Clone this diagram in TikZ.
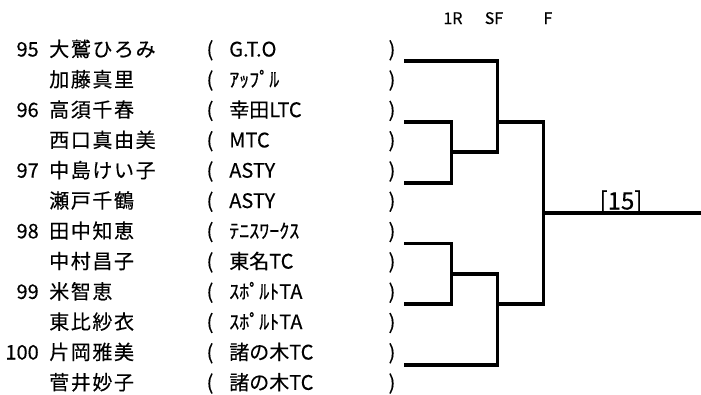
\documentclass[tikz,border=0pt]{standalone}
\usepackage{fontspec}
\setmainfont{Noto Sans CJK JP}[FakeBold=0.3]
\newfontfamily\namefont{Noto Sans CJK JP}[LetterSpace=8,FakeBold=0.3]
\begin{document}
\begin{tikzpicture}[x=0.75pt,y=-0.75pt,
  txt/.style={inner sep=0pt,font=\fontsize{15pt}{18pt}\selectfont},
  numtxt/.style={txt,anchor=base east},
  nametxt/.style={inner sep=0pt,anchor=base west,font=\namefont\fontsize{15pt}{18pt}\selectfont},
  clubtxt/.style={txt,anchor=base west},
  partxt/.style={txt,anchor=base},
  headtxt/.style={inner sep=0pt,anchor=base,font=\fontsize{12pt}{14pt}\selectfont},
  resulttxt/.style={inner sep=0pt,anchor=base,font=\fontsize{18pt}{20pt}\selectfont},
  bracket/.style={line width=2.4pt,line join=miter,line cap=rect}]
\useasboundingbox (0,0) rectangle (701,394);

% header
\node[headtxt] (h1) at (453,24) {1R};
\node[headtxt] (h2) at (494,24) {SF};
\node[headtxt] (h3) at (548,24) {F};

% rows
\foreach \i/\num/\name/\club in {
  1/95/大鷲ひろみ/G.T.O,
  2//加藤真里/ｱｯﾌﾟﾙ,
  3/96/高須千春/幸田LTC,
  4//西口真由美/MTC,
  5/97/中島けい子/ASTY,
  6//瀬戸千鶴/ASTY,
  7/98/田中知恵/ﾃﾆｽﾜｰｸｽ,
  8//中村昌子/東名TC,
  9/99/米智恵/ｽﾎﾟﾙﾄTA,
  10//東比紗衣/ｽﾎﾟﾙﾄTA,
  11/100/片岡雅美/諸の木TC,
  12//菅井妙子/諸の木TC}{
  \pgfmathsetmacro\yb{56.5+30.3*(\i-1)}
  \node[numtxt] (n\i) at (39,\yb) {\num};
  \node[nametxt] (p\i) at (49,\yb) {\name};
  \node[partxt] (lp\i) at (210,\yb) {(};
  \node[clubtxt] (c\i) at (229,\yb) {\club};
  \node[partxt] (rp\i) at (392,\yb) {)};
}

% bracket coordinates
\coordinate (a1) at (406,61);
\coordinate (a1e) at (497.7,61);
\coordinate (b1) at (406,122);
\coordinate (b1e) at (451.7,122);
\coordinate (b2) at (406,183);
\coordinate (b2e) at (451.7,183);
\coordinate (bo) at (451.7,152);
\coordinate (boe) at (497.7,152);
\coordinate (s1) at (497.7,122);
\coordinate (s1e) at (543.3,122);
\coordinate (c1) at (406,243.5);
\coordinate (c1e) at (451.7,243.5);
\coordinate (c2) at (406,304);
\coordinate (c2e) at (451.7,304);
\coordinate (co) at (451.7,274);
\coordinate (coe) at (497.7,274);
\coordinate (d1) at (406,365);
\coordinate (d1e) at (497.7,365);
\coordinate (s2) at (497.7,304);
\coordinate (s2e) at (543.3,304);
\coordinate (fo) at (543.3,213);
\coordinate (foe) at (701,213);

\draw[bracket] (a1) -- (a1e) -- (boe) -- (bo);
\draw[bracket] (b1) -- (b1e) -- (b2e) -- (b2);
\draw[bracket] (s1) -- (s1e) -- (s2e) -- (s2);
\draw[bracket] (c1) -- (c1e) -- (c2e) -- (c2);
\draw[bracket] (co) -- (coe) -- (d1e) -- (d1);
\draw[bracket] (fo) -- (foe);

\node[resulttxt] (res) at (621,209.5) {[15]};
\end{tikzpicture}
\end{document}
